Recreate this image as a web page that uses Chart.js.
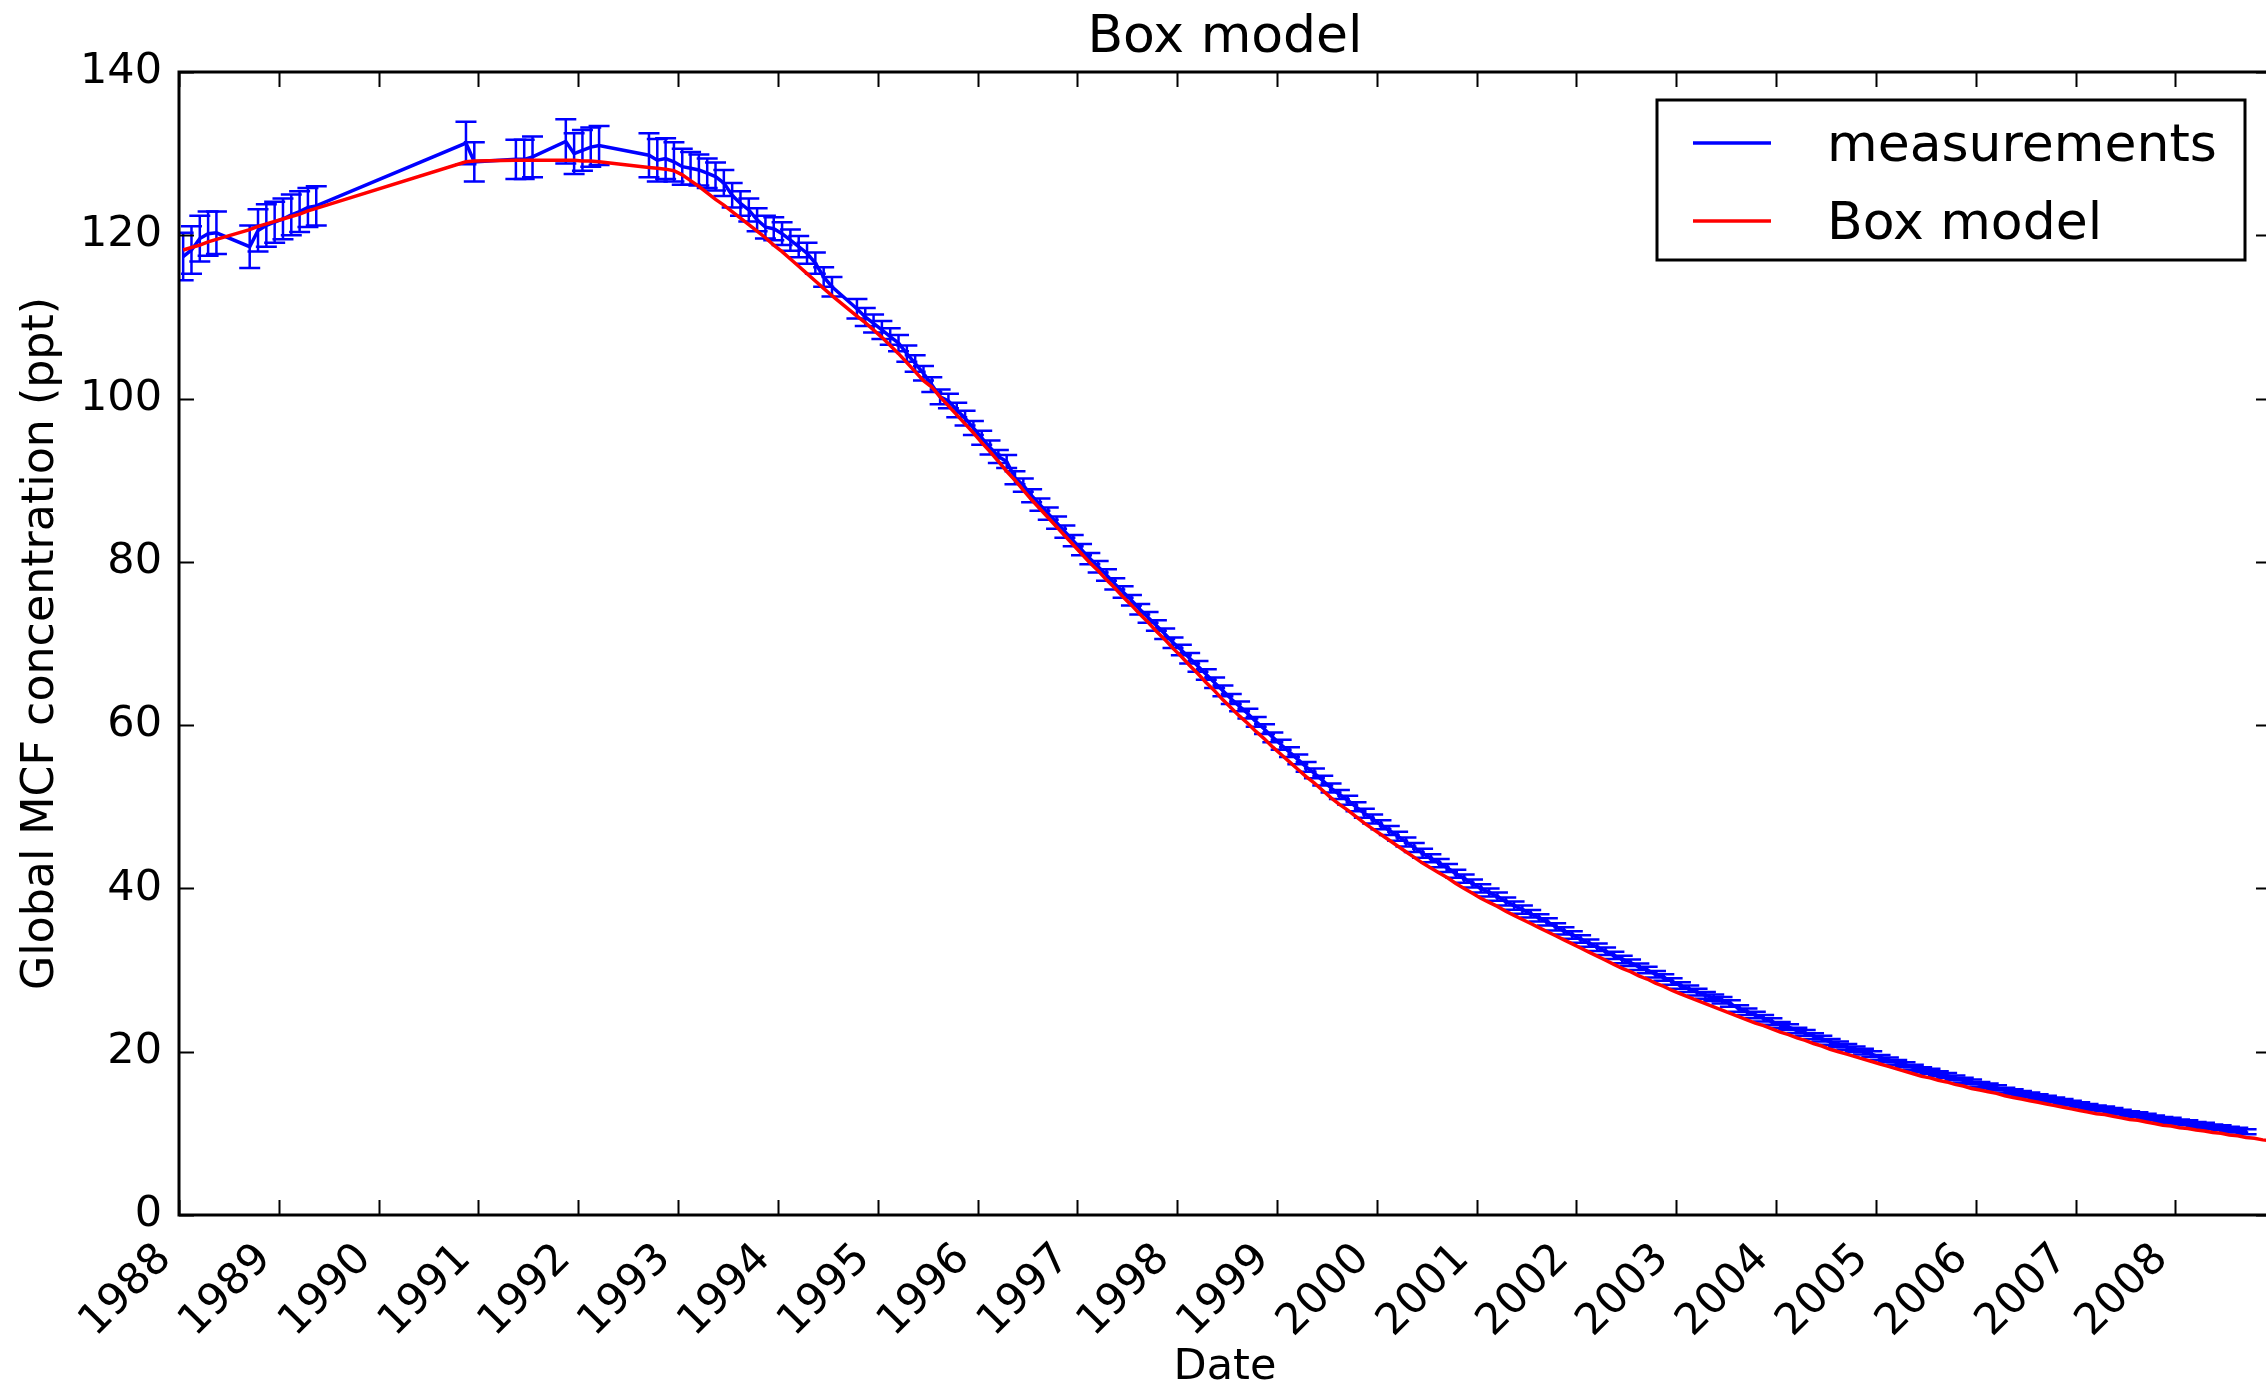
<!DOCTYPE html>
<html><head><meta charset="utf-8">
<script src="https://cdn.jsdelivr.net/npm/chart.js@4.4.1/dist/chart.umd.min.js"></script>
<style>html,body{margin:0;padding:0;overflow:hidden;background:#fff;}#wrap{width:2280px;height:1383px;}</style>
</head><body><div id="wrap"><canvas id="c" width="2280" height="1383"></canvas></div>
<script>
// ---------- data ----------
const months = [
 '1988-01','1988-02','1988-03','1988-04','1988-05','1988-09','1988-10','1988-11','1988-12',
 '1989-01','1989-02','1989-03','1989-04','1989-05',
 '1990-11','1990-12',
 '1991-05','1991-06','1991-07','1991-11','1991-12',
 '1992-01','1992-02','1992-03','1992-09','1992-10','1992-11','1992-12',
 '1993-01','1993-02','1993-03','1993-04','1993-05','1993-06','1993-07','1993-08','1993-09','1993-10','1993-11','1993-12',
 '1994-01','1994-02','1994-03','1994-04','1994-05','1994-06','1994-07','1994-10','1994-11','1994-12',
 '1995-01','1995-02','1995-03','1995-04','1995-05','1995-06','1995-07','1995-08','1995-09','1995-10','1995-11','1995-12',
 '1996-01','1996-02','1996-03','1996-04','1996-05','1996-06','1996-07','1996-08','1996-09','1996-10','1996-11','1996-12',
 '1997-01','1997-02','1997-03','1997-04','1997-05','1997-06','1997-07','1997-08','1997-09','1997-10','1997-11','1997-12',
 '1998-01','1998-02','1998-03','1998-04','1998-05','1998-06','1998-07','1998-08','1998-09','1998-10','1998-11','1998-12',
 '1999-01','1999-02','1999-03','1999-04','1999-05','1999-06','1999-07','1999-08','1999-09','1999-10','1999-11','1999-12',
 '2000-01','2000-02','2000-03','2000-04','2000-05','2000-06','2000-07','2000-08','2000-09','2000-10','2000-11','2000-12',
 '2001-01','2001-02','2001-03','2001-04','2001-05','2001-06','2001-07','2001-08','2001-09','2001-10','2001-11','2001-12',
 '2002-01','2002-02','2002-03','2002-04','2002-05','2002-06','2002-07','2002-08','2002-09','2002-10','2002-11','2002-12',
 '2003-01','2003-02','2003-03','2003-04','2003-05','2003-06','2003-07','2003-08','2003-09','2003-10','2003-11','2003-12',
 '2004-01','2004-02','2004-03','2004-04','2004-05','2004-06','2004-07','2004-08','2004-09','2004-10','2004-11','2004-12',
 '2005-01','2005-02','2005-03','2005-04','2005-05','2005-06','2005-07','2005-08','2005-09','2005-10','2005-11','2005-12',
 '2006-01','2006-02','2006-03','2006-04','2006-05','2006-06','2006-07','2006-08','2006-09','2006-10','2006-11','2006-12',
 '2007-01','2007-02','2007-03','2007-04','2007-05','2007-06','2007-07','2007-08','2007-09','2007-10','2007-11','2007-12',
 '2008-01','2008-02','2008-03','2008-04','2008-05','2008-06','2008-07','2008-08','2008-09'
];
const measured = [
 117.4,118.2,119.6,120.2,120.3,118.6,120.6,121.2,121.6,
 122.0,122.5,122.9,123.4,123.6,
 131.3,129.0,
 129.3,129.3,129.6,131.5,130.0,
 130.4,130.8,131.0,129.8,129.2,129.4,129.0,
 128.4,128.2,128.0,127.6,127.2,126.4,124.9,123.9,123.1,121.9,121.0,120.8,
 120.2,119.4,118.6,117.8,116.6,114.9,113.7,111.0,110.0,109.2,
 108.4,107.6,106.8,105.5,104.3,103.1,101.7,100.2,99.7,98.6,97.6,96.4,
 95.2,94.0,92.9,92.3,90.3,89.4,88.1,87.0,85.9,84.8,83.7,82.6,
 81.5,80.4,79.4,78.4,77.3,76.3,75.3,74.2,73.2,72.2,71.2,70.1,
 69.2,68.2,67.2,66.2,65.2,64.2,63.2,62.3,61.4,60.4,59.5,58.5,
 57.6,56.7,55.8,54.9,54.1,53.2,52.3,51.5,50.8,50.0,49.2,48.5,
 47.8,47.1,46.4,45.7,45.0,44.3,43.7,43.1,42.5,41.8,41.2,40.6,
 40.0,39.5,39.0,38.4,37.9,37.4,36.9,36.4,35.9,35.3,34.8,34.3,
 33.8,33.3,32.8,32.3,31.8,31.3,30.9,30.4,30.0,29.5,29.1,28.6,
 28.1,27.7,27.3,26.9,26.6,26.3,25.9,25.3,24.9,24.5,24.1,23.7,
 23.3,23.0,22.6,22.3,21.9,21.6,21.2,20.9,20.6,20.3,20.0,19.7,
 19.3,19.0,18.7,18.4,18.1,17.8,17.6,17.3,17.1,16.8,16.5,16.3,
 16.0,15.8,15.6,15.3,15.1,14.9,14.7,14.5,14.3,14.1,13.9,13.7,
 13.5,13.3,13.1,13.0,12.8,12.6,12.4,12.3,12.1,11.9,11.7,11.6,
 11.4,11.3,11.1,11.0,10.8,10.7,10.5,10.4,10.2
];
const measuredErr = [
 2.9,2.9,2.8,2.7,2.6,2.6,2.6,2.6,2.5,
 2.5,2.5,2.5,2.4,2.4,
 2.6,2.4,
 2.4,2.4,2.5,2.7,2.5,
 2.5,2.4,2.4,2.7,2.6,2.5,2.4,
 2.2,2.0,1.9,1.8,1.7,1.6,1.5,1.5,1.4,1.4,1.4,1.4,
 1.4,1.3,1.3,1.3,1.3,1.2,1.2,1.2,1.1,1.1,
 1.1,1.0,1.0,1.0,1.0,0.9,0.9,0.9,0.9,0.9,0.9,0.85,
 0.85,0.85,0.8,0.8,0.8,0.8,0.8,0.75,0.75,0.75,0.75,0.7,
 0.7,0.7,0.7,0.7,0.7,0.7,0.65,0.65,0.65,0.65,0.65,0.65,
 0.65,0.65,0.65,0.65,0.65,0.65,0.6,0.6,0.6,0.6,0.6,0.6,
 0.6,0.6,0.6,0.6,0.6,0.6,0.55,0.55,0.55,0.55,0.55,0.55,
 0.55,0.55,0.55,0.55,0.55,0.55,0.5,0.5,0.5,0.5,0.5,0.5,
 0.5,0.5,0.5,0.5,0.5,0.5,0.45,0.45,0.45,0.45,0.45,0.45,
 0.45,0.45,0.45,0.45,0.45,0.45,0.4,0.4,0.4,0.4,0.4,0.4,
 0.4,0.4,0.4,0.4,0.4,0.4,0.4,0.4,0.4,0.4,0.4,0.4,
 0.35,0.35,0.35,0.35,0.35,0.35,0.35,0.35,0.35,0.35,0.35,0.35,
 0.3,0.3,0.3,0.3,0.3,0.3,0.3,0.3,0.3,0.3,0.3,0.3,
 0.3,0.3,0.3,0.3,0.3,0.3,0.3,0.3,0.3,0.3,0.3,0.3,
 0.3,0.3,0.3,0.3,0.3,0.3,0.3,0.3,0.3,0.3,0.3,0.3,
 0.3,0.3,0.3,0.3,0.3,0.3,0.3,0.3,0.3
];
const modelExtraMonths = ['2008-10','2008-11','2008-12'];
const model = [
 118.2,118.5,118.8,119.2,119.5,120.7,121.1,121.4,121.7,
 122.0,122.3,122.6,123.0,123.3,
 129.0,129.1,
 129.2,129.2,129.2,129.2,129.2,
 129.1,129.1,129.0,128.3,128.2,128.1,127.9,
 127.4,126.7,126.0,125.2,124.4,123.7,122.9,122.1,121.3,120.5,119.7,118.8,
 118.0,117.1,116.2,115.3,114.4,113.5,112.6,110.1,109.3,108.4,
 107.5,106.5,105.5,104.4,103.3,102.2,101.4,100.2,99.1,98.0,96.9,95.8,
 94.6,93.5,92.3,91.1,90.0,88.8,87.6,86.5,85.4,84.3,83.2,82.1,
 81.0,79.9,78.9,77.8,76.8,75.7,74.7,73.6,72.6,71.5,70.5,69.4,
 68.4,67.3,66.3,65.2,64.2,63.1,62.1,61.1,60.2,59.2,58.3,57.3,
 56.4,55.5,54.6,53.7,52.9,52.0,51.1,50.3,49.6,48.8,48.0,47.3,
 46.6,45.9,45.2,44.5,43.8,43.1,42.5,41.9,41.3,40.6,40.0,39.4,
 38.8,38.3,37.8,37.2,36.7,36.2,35.7,35.2,34.7,34.2,33.7,33.2,
 32.7,32.2,31.7,31.2,30.7,30.2,29.8,29.3,28.9,28.4,28.0,27.5,
 27.1,26.7,26.3,25.9,25.5,25.1,24.7,24.3,23.9,23.5,23.2,22.8,
 22.4,22.1,21.7,21.4,21.0,20.7,20.3,20.0,19.7,19.4,19.1,18.8,
 18.5,18.2,17.9,17.6,17.3,17.0,16.8,16.5,16.3,16.0,15.8,15.5,
 15.3,15.1,14.9,14.6,14.4,14.2,14.0,13.8,13.6,13.4,13.2,13.0,
 12.8,12.6,12.4,12.3,12.1,11.9,11.7,11.6,11.4,11.2,11.0,10.9,
 10.7,10.6,10.4,10.3,10.1,10.0,9.8,9.7,9.5,9.4,9.2,9.1
];
const yearTicks = [1988,1989,1990,1991,1992,1993,1994,1995,1996,1997,1998,1999,2000,2001,2002,2003,2004,2005,2006,2007,2008];
const valueTicks = [0,20,40,60,80,100,120,140];
const seriesLabels = ['measurements','Box model'];
const chartTitle = 'Box model';
const xTitle = 'Date';
const yTitle = 'Global MCF concentration (ppt)';

// ---------- rendering ----------
const FONT = "'DejaVu Sans', sans-serif";
const BLUE = '#0000ff', RED = '#ff0000';
const toYear = s => { const p = s.split('-').map(Number); return p[0] + (p[1] - 0.5) / 12; };
const modelMonths = months.concat(modelExtraMonths);
const blueData = months.map((m, i) => ({x: toYear(m), y: measured[i]}));
const redData = modelMonths.map((m, i) => ({x: toYear(m), y: model[i]}));

const errorBars = {
  id: 'errorBars',
  afterDatasetDraw(chart, args) {
    if (args.index !== 0) return;
    const ctx = chart.ctx, xs = chart.scales.x, ys = chart.scales.y, ca = chart.chartArea;
    ctx.save();
    ctx.beginPath(); ctx.rect(ca.left, ca.top, ca.right - ca.left, ca.bottom - ca.top); ctx.clip();
    ctx.strokeStyle = BLUE; ctx.lineWidth = 2.5;
    const cap = 10.5;
    months.forEach((m, i) => {
      const px = xs.getPixelForValue(toYear(m));
      const y1 = ys.getPixelForValue(measured[i] - measuredErr[i]);
      const y2 = ys.getPixelForValue(measured[i] + measuredErr[i]);
      ctx.beginPath();
      ctx.moveTo(px, y1); ctx.lineTo(px, y2);
      ctx.moveTo(px - cap, y1); ctx.lineTo(px + cap, y1);
      ctx.moveTo(px - cap, y2); ctx.lineTo(px + cap, y2);
      ctx.stroke();
    });
    ctx.restore();
  }
};

const frame = {
  id: 'frame',
  afterDatasetsDraw(chart) {
    const ctx = chart.ctx, xs = chart.scales.x, ys = chart.scales.y, ca = chart.chartArea;
    const TL = 15;
    ctx.save();
    ctx.strokeStyle = '#000'; ctx.lineWidth = 2;
    ctx.beginPath();
    xs.ticks.forEach(t => {
      const px = Math.round(xs.getPixelForValue(t.value)) + 0.5;
      ctx.moveTo(px, ca.bottom); ctx.lineTo(px, ca.bottom - TL);
      ctx.moveTo(px, ca.top); ctx.lineTo(px, ca.top + TL);
    });
    ys.ticks.forEach(t => {
      const py = Math.round(ys.getPixelForValue(t.value)) + 0.5;
      ctx.moveTo(ca.left, py); ctx.lineTo(ca.left + TL, py);
      ctx.moveTo(ca.right, py); ctx.lineTo(ca.right - TL, py);
    });
    ctx.stroke();
    ctx.lineWidth = 3;
    ctx.strokeRect(ca.left, ca.top, ca.right - ca.left, ca.bottom - ca.top);
    ctx.restore();
  }
};

const legendBox = {
  id: 'legendBox',
  afterDraw(chart) {
    const ctx = chart.ctx, ca = chart.chartArea;
    const w = 588, h = 160;
    const x0 = ca.right - 26 - w, y0 = ca.top + 28;
    ctx.save();
    ctx.fillStyle = '#fff';
    ctx.fillRect(x0, y0, w, h);
    ctx.strokeStyle = '#000'; ctx.lineWidth = 3;
    ctx.strokeRect(x0, y0, w, h);
    const rows = [y0 + 43, y0 + 121];
    const cols = [BLUE, RED];
    ctx.font = '52px ' + FONT;
    ctx.textBaseline = 'alphabetic';
    ctx.textAlign = 'left';
    rows.forEach((ry, i) => {
      ctx.strokeStyle = cols[i]; ctx.lineWidth = 3.5;
      ctx.beginPath(); ctx.moveTo(x0 + 36, ry); ctx.lineTo(x0 + 114, ry); ctx.stroke();
      ctx.fillStyle = '#000';
      ctx.fillText(chart.data.datasets[i].label, x0 + 170, ry + 18);
    });
    ctx.restore();
  }
};

new Chart(document.getElementById('c').getContext('2d'), {
  type: 'line',
  data: {
    datasets: [
      {label: seriesLabels[0], data: blueData, borderColor: BLUE, backgroundColor: BLUE, borderWidth: 3.5, pointRadius: 0, tension: 0, fill: false, order: 2},
      {label: seriesLabels[1], data: redData, borderColor: RED, backgroundColor: RED, borderWidth: 3.5, pointRadius: 0, tension: 0, fill: false, order: 1}
    ]
  },
  options: {
    responsive: false, animation: false, devicePixelRatio: 1,
    layout: {padding: {left: 0, right: 9, top: 0, bottom: 0}},
    plugins: {
      legend: {display: false},
      tooltip: {enabled: false},
      title: {display: true, text: chartTitle, fullSize: false, color: '#000',
        font: {family: FONT, size: 52, weight: 'normal', lineHeight: 1.2}, padding: {top: 7, bottom: 2.6}}
    },
    scales: {
      x: {
        type: 'linear', min: 1988, max: 2008.958,
        grid: {display: false, drawTicks: false}, border: {display: false},
        afterBuildTicks: s => { s.ticks = yearTicks.map(v => ({value: v})); },
        afterFit: s => { s.height = 168; },
        ticks: {autoSkip: false, minRotation: 45, maxRotation: 45, padding: 19, labelOffset: -14, color: '#000',
          font: {family: FONT, size: 43}, callback: v => String(v)},
        title: {display: true, text: xTitle, color: '#000', font: {family: FONT, size: 43, lineHeight: 0.7}, padding: {top: 0, bottom: 0}}
      },
      y: {
        min: 0, max: 140,
        grid: {display: false, drawTicks: false}, border: {display: false},
        afterBuildTicks: s => { s.ticks = valueTicks.map(v => ({value: v})); },
        afterFit: s => { s.width = 179; },
        ticks: {padding: 17, color: '#000', font: {family: FONT, size: 43}, callback: v => String(v)},
        title: {display: true, text: yTitle, color: '#000', font: {family: FONT, size: 44.3, lineHeight: 1}, padding: {top: 19, bottom: 0}}
      }
    }
  },
  plugins: [errorBars, frame, legendBox]
});
</script>
</body></html>
